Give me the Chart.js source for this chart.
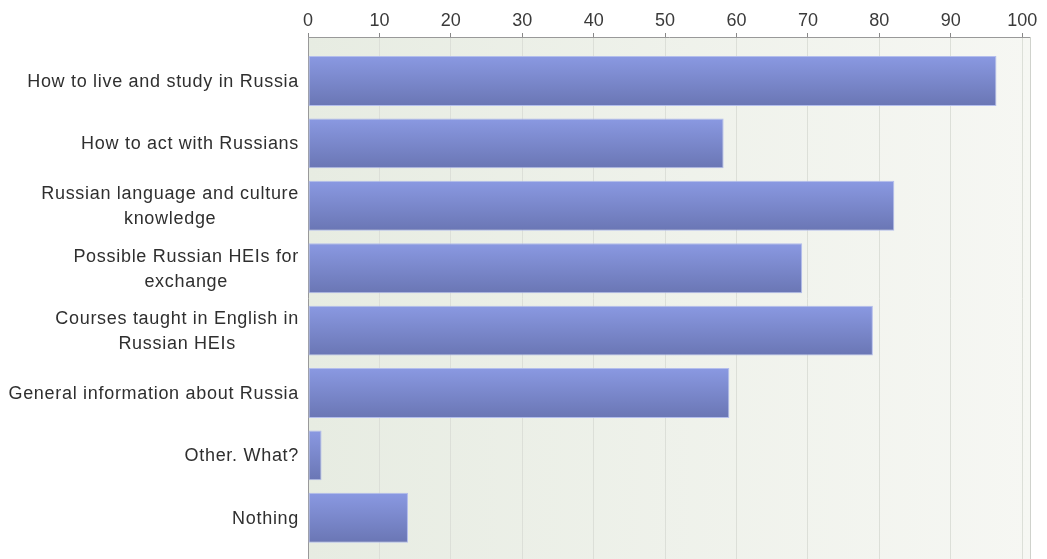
<!DOCTYPE html>
<html>
<head>
<meta charset="utf-8">
<script src="https://cdn.jsdelivr.net/npm/chart.js@4"></script>
<style>
  html, body { margin: 0; padding: 0; background: #fff; overflow: hidden; }
  #wrap { position: relative; width: 1047px; height: 559px; }
</style>
</head>
<body>
<div id="wrap"><canvas id="chart"></canvas></div>
<script>
// Categories (multi-line labels as arrays), values and tick labels
const categories = [
    ['How to live and study in Russia'],
    ['How to act with Russians'],
    ['Russian language and culture', 'knowledge'],
    ['Possible Russian HEIs for', 'exchange'],
    ['Courses taught in English in', 'Russian HEIs'],
    ['General information about Russia'],
    ['Other. What?'],
    ['Nothing']
];
const values = [96.4, 58.2, 82.1, 69.2, 79.1, 59.0, 1.9, 14.0];
const xTicks = [0, 10, 20, 30, 40, 50, 60, 70, 80, 90, 100];

const FONT = "'Liberation Sans', Arial, sans-serif";
const TEXT = '#2f2f2f';

// plot background: soft green-grey, lighter to the right
const plotBackground = {
    id: 'plotBackground',
    beforeDraw(chart) {
        const { ctx, chartArea: a } = chart;
        const g = ctx.createLinearGradient(a.left, 0, a.right, 0);
        g.addColorStop(0, '#e7ece2');
        g.addColorStop(1, '#f6f7f3');
        ctx.save();
        ctx.fillStyle = g;
        ctx.fillRect(a.left, a.top, a.right - a.left, a.bottom - a.top);
        ctx.restore();
    },
    afterDraw(chart) {
        const { ctx, chartArea: a } = chart;
        ctx.save();
        ctx.strokeStyle = '#cfd2cc';
        ctx.lineWidth = 1;
        ctx.beginPath();
        ctx.moveTo(Math.round(a.right) + 0.5, a.top);
        ctx.lineTo(Math.round(a.right) + 0.5, a.bottom);
        ctx.stroke();
        ctx.restore();
    }
};

// category labels: right-aligned block, lines centred inside it
const categoryLabels = {
    id: 'categoryLabels',
    afterDraw(chart) {
        const { ctx } = chart;
        const y = chart.scales.y;
        const right = y.right - 9;
        const lineH = 25;
        ctx.save();
        ctx.font = '18px ' + FONT;
        ctx.letterSpacing = '0.7px';
        ctx.fillStyle = TEXT;
        ctx.textAlign = 'center';
        ctx.textBaseline = 'middle';
        categories.forEach((lines, i) => {
            const widest = Math.max(...lines.map(l => ctx.measureText(l).width));
            const cx = right - widest / 2;
            const cy = y.getPixelForValue(i) + 1;
            const start = cy - (lines.length - 1) * lineH / 2;
            lines.forEach((l, k) => ctx.fillText(l, cx, start + k * lineH));
        });
        ctx.restore();
    }
};

const barGradient = (c) => {
    const chart = c.chart;
    if (!chart.chartArea || c.dataIndex === undefined) return '#7884cc';
    const yc = chart.scales.y.getPixelForValue(c.dataIndex);
    const g = chart.ctx.createLinearGradient(0, yc - 25, 0, yc + 25);
    g.addColorStop(0, '#8a99e2');
    g.addColorStop(1, '#6a76b4');
    return g;
};

new Chart(document.getElementById('chart'), {
    type: 'bar',
    data: {
        datasets: [{
            data: values.map((v, i) => ({ x: v, y: i })),
            backgroundColor: barGradient,
            borderColor: 'rgba(176,186,236,0.95)',
            borderWidth: 1,
            borderSkipped: false,
            barPercentage: 0.8,
            categoryPercentage: 1
        }]
    },
    options: {
        indexAxis: 'y',
        responsive: true,
        maintainAspectRatio: false,
        animation: false,
        layout: { padding: { top: 0, right: 17, bottom: 0, left: 0 } },
        plugins: { legend: { display: false }, tooltip: { enabled: false } },
        scales: {
            x: {
                type: 'linear',
                position: 'top',
                min: 0,
                max: 101.1,
                afterBuildTicks: (s) => { s.ticks = xTicks.map(v => ({ value: v })); },
                afterFit: (s) => { s.height = 37; },
                ticks: {
                    font: { family: FONT, size: 18 },
                    color: '#3a3a3a',
                    padding: 1,
                    maxRotation: 0
                },
                grid: { color: '#dcdfd8', tickLength: 4, tickColor: '#888' },
                border: { color: '#999' }
            },
            y: {
                type: 'linear',
                reverse: true,
                offset: false,
                min: -0.705,
                max: 7.66,
                afterBuildTicks: (s) => { s.ticks = categories.map((_, i) => ({ value: i })); },
                afterFit: (s) => { s.width = 308; },
                ticks: { display: false },
                grid: { display: false },
                border: { color: '#999' }
            }
        }
    },
    plugins: [plotBackground, categoryLabels]
});
</script>
</body>
</html>
